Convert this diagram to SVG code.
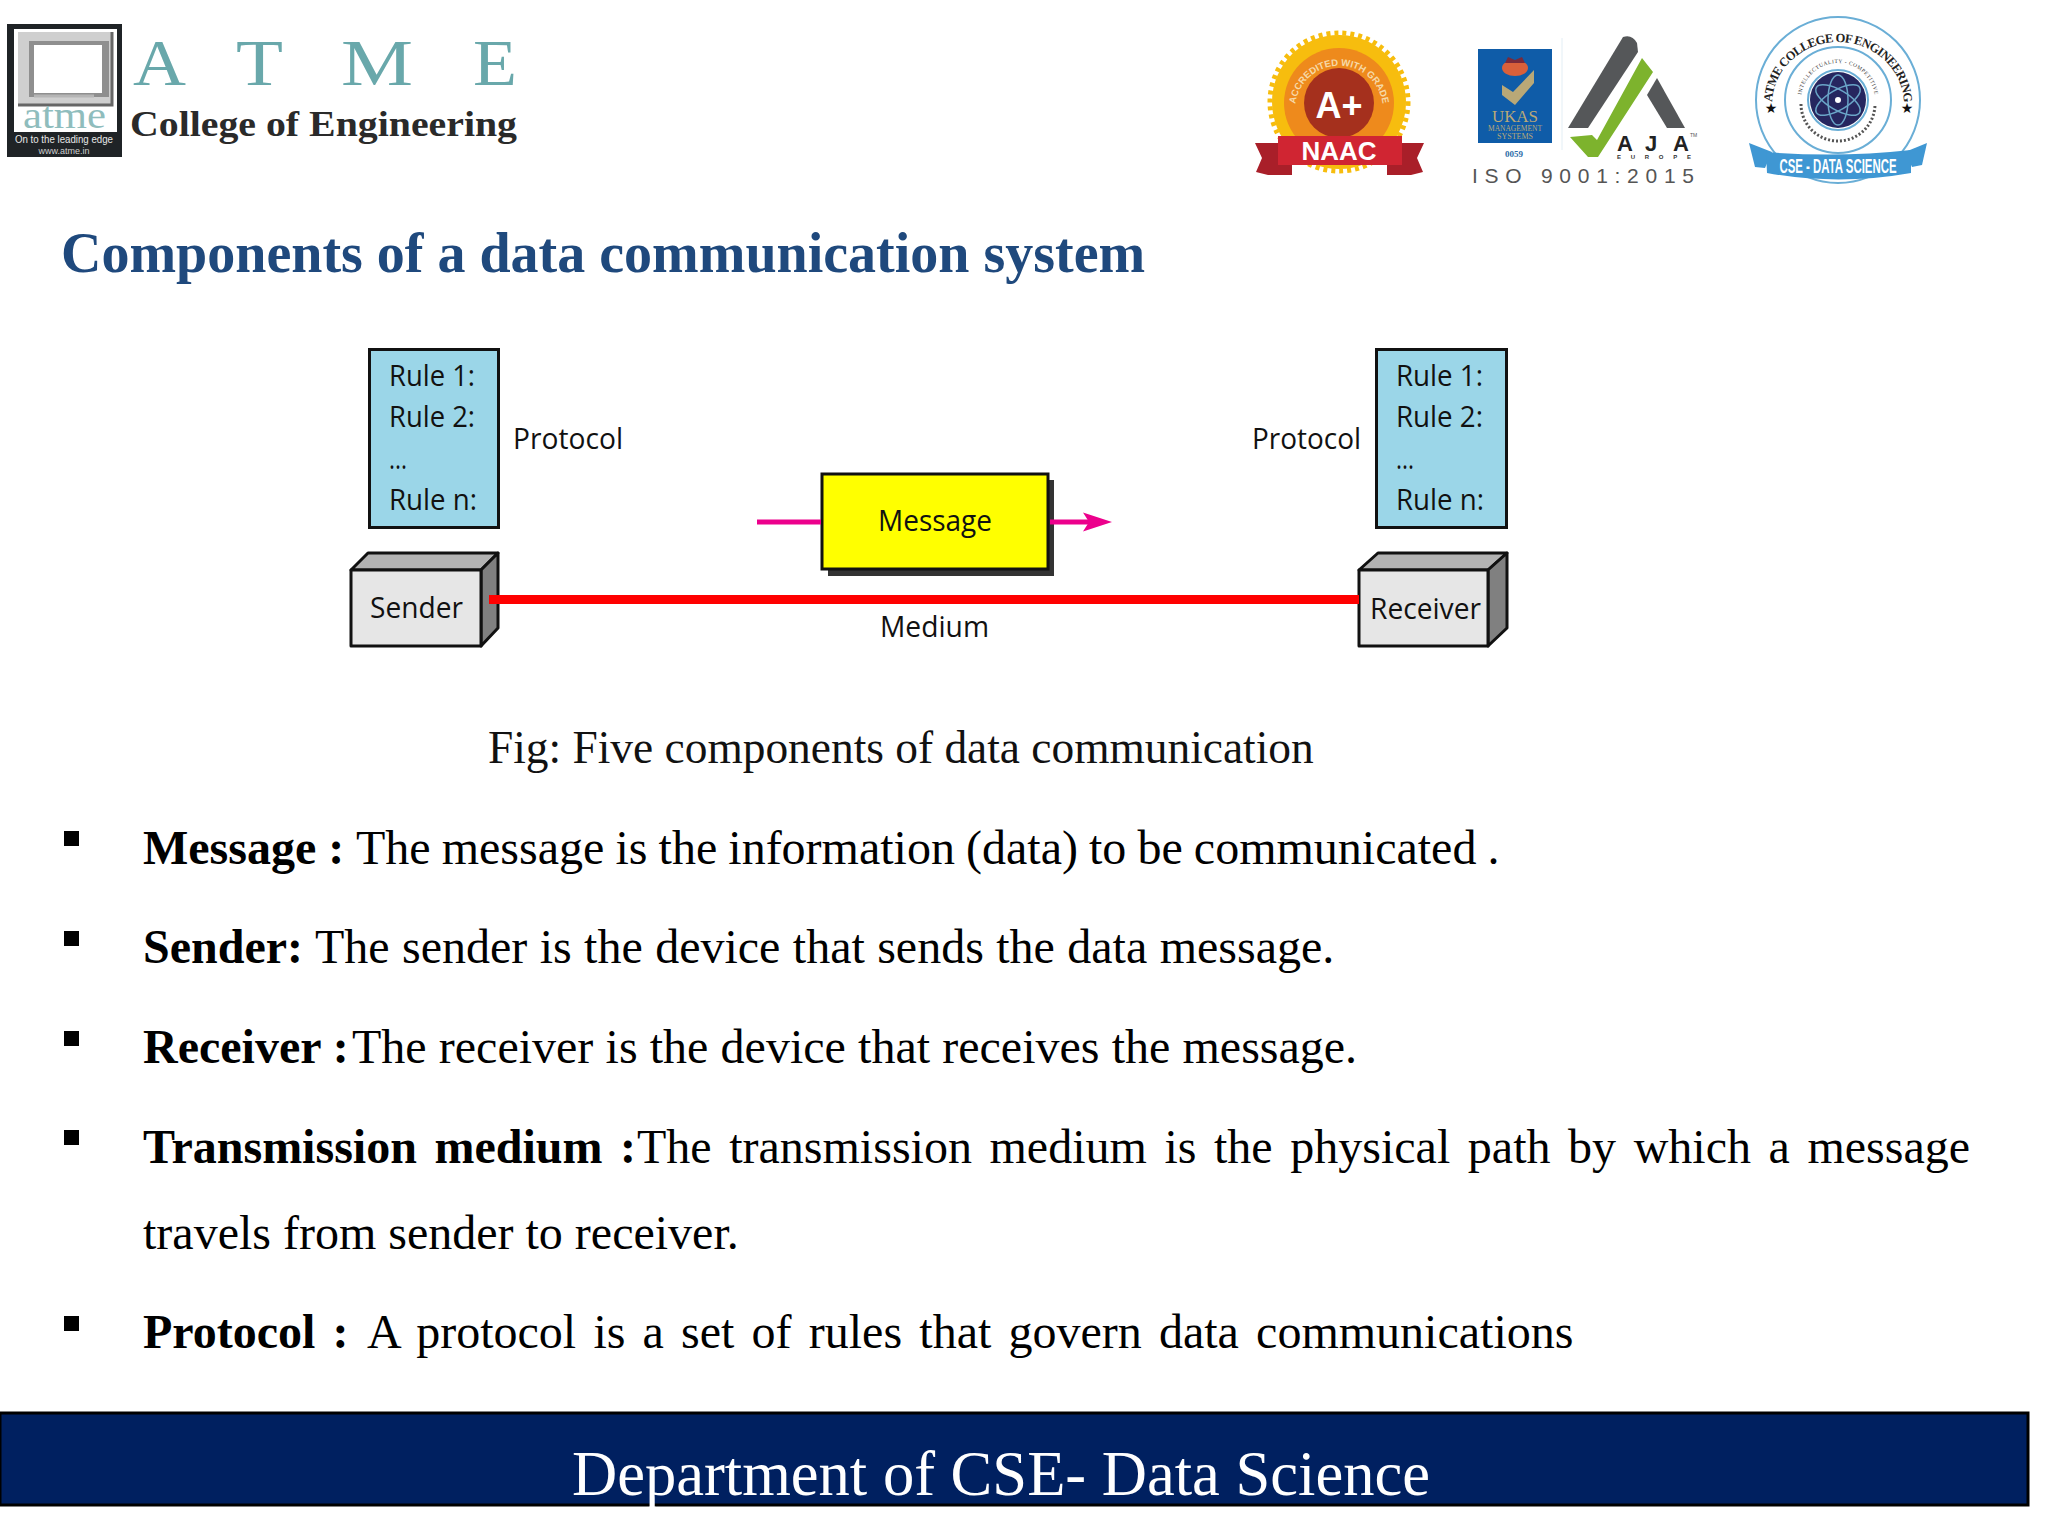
<svg xmlns="http://www.w3.org/2000/svg" width="2048" height="1536" viewBox="0 0 2048 1536">
<style>
.s{font-family:"Liberation Serif",serif}
.o{font-family:"Open Sans","Liberation Sans",sans-serif;font-size:29px;fill:#111}
.a{font-family:"Liberation Sans",sans-serif}
.d{font-family:"DejaVu Sans",sans-serif}
.b{font-family:"Liberation Serif",serif;font-size:48px;fill:#000}
.bb{font-weight:700}
.rule{fill:#9bd6e8;stroke:#111;stroke-width:3}
.front{fill:#e6e6e6;stroke:#111;stroke-width:3;stroke-linejoin:round}
.top{fill:#b3b3b3;stroke:#111;stroke-width:3;stroke-linejoin:round}
.side{fill:#808080;stroke:#111;stroke-width:3;stroke-linejoin:round}
.pink{stroke:#ec008c;stroke-width:5;fill:none}
</style>
<defs>
<marker id="head" markerUnits="userSpaceOnUse" markerWidth="30" markerHeight="20" refX="12" refY="10" orient="auto"><path d="M0,0.5 L29,10 L0,19.5 L6,10 Z" fill="#ec008c"/></marker>
<path id="arcNaac" d="M1299,128 A44,44 0 1 1 1379,128"/>
<path id="arcSeal" d="M1772,105 A66,63 0 0 1 1904,105"/>
<path id="arcRingTop" d="M1801,100 A37,37 0 0 1 1875,100"/>
</defs>
<rect width="2048" height="1536" fill="#fff"/>

<g id="logo-atme">
<rect x="7" y="24" width="115" height="133" fill="#1f2326"/>
<rect x="14" y="29" width="103" height="103" fill="#fff"/>
<rect x="18" y="32" width="94" height="74" fill="#cfcfcf"/>
<path d="M18,105 H112 V32" fill="none" stroke="#666" stroke-width="3"/>
<rect x="29" y="41" width="80" height="56" fill="#8f8f8f"/>
<rect x="34" y="45" width="68" height="48" fill="#fff"/>
<path d="M34,96 H94" stroke="#b5b5b5" stroke-width="3"/>
<text class="s" x="23" y="128" font-size="38" fill="#8fbdbd" textLength="83" lengthAdjust="spacingAndGlyphs">atme</text>
<text class="a" x="64" y="143" font-size="10" fill="#e8e8e8" text-anchor="middle" textLength="98" lengthAdjust="spacingAndGlyphs">On to the leading edge</text>
<text class="a" x="64" y="154" font-size="9" fill="#cfcfcf" text-anchor="middle">www.atme.in</text>
<g class="s" font-size="66" fill="#69a8ab">
<text x="133" y="85" textLength="53" lengthAdjust="spacingAndGlyphs">A</text>
<text x="236" y="85" textLength="47" lengthAdjust="spacingAndGlyphs">T</text>
<text x="341" y="85" textLength="72" lengthAdjust="spacingAndGlyphs">M</text>
<text x="473" y="85" textLength="44" lengthAdjust="spacingAndGlyphs">E</text>
</g>
<text class="s" x="130" y="136" font-size="36" font-weight="700" fill="#2a2a2a" textLength="387" lengthAdjust="spacingAndGlyphs">College of Engineering</text>
</g>

<g id="logo-naac">
<circle cx="1339" cy="102" r="67" fill="#f7bd0e"/>
<circle cx="1339" cy="102" r="69" fill="none" stroke="#f7bd0e" stroke-width="5" stroke-dasharray="4 4"/>
<circle cx="1339" cy="103" r="55" fill="#ee8a1c"/>
<circle cx="1339" cy="103" r="35" fill="#a5301d"/>
<text class="a" font-size="9.500" font-weight="700" fill="#f6d9a8"><textPath href="#arcNaac" startOffset="50%" text-anchor="middle">ACCREDITED WITH GRADE</textPath></text>
<text class="a" x="1339" y="118" font-size="36" font-weight="700" fill="#fff" text-anchor="middle">A+</text>
<path d="M1255,143 H1292 V175 H1268 L1256,172 L1262,158 Z" fill="#a91f29"/>
<path d="M1424,143 H1387 V175 H1411 L1423,172 L1417,158 Z" fill="#a91f29"/>
<path d="M1278,136 H1402 V165 H1278 Z" fill="#d02532"/>
<text class="a" x="1339" y="160" font-size="25" font-weight="700" fill="#fff" text-anchor="middle" textLength="75" lengthAdjust="spacingAndGlyphs">NAAC</text>
</g>

<g id="logo-ukas">
<rect x="1478" y="49" width="74" height="94" fill="#0f5ca8"/>
<ellipse cx="1515" cy="68" rx="13" ry="8" fill="#d9603a"/>
<path d="M1505,63 l3,-6 l7,3 l7,-3 l3,6 Z" fill="#7a2a3a"/>
<path d="M1502,85 L1513,92 L1534,70 V83 L1515,105 L1502,95 Z" fill="#b9a877"/>
<text class="s" x="1515" y="122" font-size="17" fill="#b9a877" text-anchor="middle" textLength="46" lengthAdjust="spacing">UKAS</text>
<text class="s" x="1515" y="131" font-size="8" fill="#b9a877" text-anchor="middle" textLength="54" lengthAdjust="spacingAndGlyphs">MANAGEMENT</text>
<text class="s" x="1515" y="139" font-size="8" fill="#b9a877" text-anchor="middle">SYSTEMS</text>
<text class="s" x="1514" y="157" font-size="9" font-weight="700" fill="#2d6ca8" text-anchor="middle">0059</text>
</g>

<g id="logo-aja">
<path d="M1562,38 V150" stroke="#e3eef5" stroke-width="1"/>
<path d="M1568,128 L1623,37 Q1632,34 1637,43 L1638,52 L1588,128 Z" fill="#555759"/>
<path d="M1647,95 L1657,78 L1685,128 L1667,128 Z" fill="#555759"/>
<path d="M1570,137 L1592,135 L1597,140 L1642,58 L1653,72 L1598,157 L1588,157 Z" fill="#7db32d"/>
<g class="a" font-size="22" font-weight="700" fill="#222">
<text x="1617" y="151">A</text><text x="1645" y="151">J</text><text x="1673" y="151">A</text>
</g>
<text class="a" x="1617" y="159" font-size="6" font-weight="700" fill="#333" textLength="74" lengthAdjust="spacing">EUROPE</text>
<text class="a" x="1690" y="137" font-size="5" fill="#555">TM</text>
<text class="a" x="1472" y="183" font-size="21" fill="#555" textLength="222" lengthAdjust="spacing">ISO 9001:2015</text>
</g>

<g id="logo-seal">
<ellipse cx="1838" cy="100" rx="82" ry="83" fill="#fff" stroke="#6aaed6" stroke-width="2"/>
<circle cx="1838" cy="100" r="53" fill="none" stroke="#6aaed6" stroke-width="2"/>
<circle cx="1838" cy="100" r="30" fill="none" stroke="#6aaed6" stroke-width="2"/>
<circle cx="1838" cy="100" r="28" fill="#26265f"/>
<g fill="none" stroke="#6aa5c8" stroke-width="1.500">
<ellipse cx="1838" cy="100" rx="25" ry="10" transform="rotate(30 1838 100)"/>
<ellipse cx="1838" cy="100" rx="25" ry="10" transform="rotate(90 1838 100)"/>
<ellipse cx="1838" cy="100" rx="25" ry="10" transform="rotate(150 1838 100)"/>
</g>
<circle cx="1838" cy="100" r="3" fill="#fff"/>
<text class="s" font-size="12.500" font-weight="700" fill="#222" letter-spacing="-0.7"><textPath href="#arcSeal" startOffset="50%" text-anchor="middle">ATME COLLEGE OF ENGINEERING</textPath></text>
<text class="s" font-size="5.500" fill="#333" letter-spacing="0.5"><textPath href="#arcRingTop" startOffset="50%" text-anchor="middle">INTELLECTUALITY - COMPETITIVE</textPath></text>
<path d="M1801,104 A37,37 0 0 0 1875,104" fill="none" stroke="#555" stroke-width="3" stroke-dasharray="2 2"/>
<text class="d" x="1771" y="113" font-size="14" fill="#111" text-anchor="middle">★</text>
<text class="d" x="1907" y="113" font-size="14" fill="#111" text-anchor="middle">★</text>
<path d="M1749,143 L1772,152 L1765,168 L1755,167 Z" fill="#3f97d3"/>
<path d="M1927,143 L1905,152 L1912,167 L1922,165 Z" fill="#3f97d3"/>
<path d="M1766,152 Q1838,158 1911,150 V173 Q1838,186 1767,173 Z" fill="#3f97d3"/>
<text class="a" x="1838" y="173" font-size="20" font-weight="700" fill="#fff" text-anchor="middle" textLength="117" lengthAdjust="spacingAndGlyphs">CSE - DATA SCIENCE</text>
</g>

<text id="title" class="s bb" x="61" y="272" font-size="56" fill="#1f497d">Components of a data communication system</text>

<g id="rules-left">
<rect class="rule" x="369.500" y="349.500" width="129" height="178"/>
<text class="o" x="389" y="386" textLength="86" lengthAdjust="spacingAndGlyphs">Rule 1:</text>
<text class="o" x="389" y="427" textLength="86" lengthAdjust="spacingAndGlyphs">Rule 2:</text>
<text class="o" x="389" y="469" textLength="18" lengthAdjust="spacingAndGlyphs">...</text>
<text class="o" x="389" y="510" textLength="88" lengthAdjust="spacingAndGlyphs">Rule n:</text>
</g>
<text id="protocol-left" class="o" x="513" y="449" textLength="110" lengthAdjust="spacingAndGlyphs">Protocol</text>

<g id="rules-right">
<rect class="rule" x="1376.500" y="349.500" width="130" height="178"/>
<text class="o" x="1396" y="386" textLength="87" lengthAdjust="spacingAndGlyphs">Rule 1:</text>
<text class="o" x="1396" y="427" textLength="87" lengthAdjust="spacingAndGlyphs">Rule 2:</text>
<text class="o" x="1396" y="469" textLength="18" lengthAdjust="spacingAndGlyphs">...</text>
<text class="o" x="1396" y="510" textLength="88" lengthAdjust="spacingAndGlyphs">Rule n:</text>
</g>
<text id="protocol-right" class="o" x="1252" y="449" textLength="109" lengthAdjust="spacingAndGlyphs">Protocol</text>

<g id="sender">
<path class="top" d="M351,570 L368,553 H498 L481,570 Z"/>
<path class="side" d="M481,570 L498,553 V628 L481,646 Z"/>
<rect class="front" x="351" y="570" width="130" height="76"/>
<text class="o" x="370" y="618" textLength="93" lengthAdjust="spacingAndGlyphs">Sender</text>
</g>

<g id="receiver">
<path class="top" d="M1359,570 L1378,553 H1507 L1488,570 Z"/>
<path class="side" d="M1488,570 L1507,553 V628 L1488,646 Z"/>
<rect class="front" x="1359" y="570" width="129" height="76"/>
<text class="o" x="1370" y="619" textLength="111" lengthAdjust="spacingAndGlyphs">Receiver</text>
</g>

<g id="message">
<rect x="828" y="480" width="226" height="96" fill="#333"/>
<rect x="822" y="474" width="226" height="95" fill="#ff0" stroke="#111" stroke-width="3"/>
<text class="o" x="878" y="531" textLength="114" lengthAdjust="spacingAndGlyphs">Message</text>
</g>

<g id="connectors">
<line class="pink" x1="757" y1="522" x2="821" y2="522"/>
<line class="pink" x1="1050" y1="522" x2="1095" y2="522" marker-end="url(#head)"/>
<line x1="489" y1="599.500" x2="1359" y2="599.500" stroke="#f00" stroke-width="9"/>
</g>
<text id="medium" class="o" x="880" y="637" textLength="109" lengthAdjust="spacingAndGlyphs">Medium</text>

<text id="caption" class="s" x="488" y="763" font-size="45.400" fill="#111">Fig: Five components of data communication</text>

<g id="bullets" fill="#000">
<rect x="64" y="831" width="15" height="15"/>
<rect x="64" y="931" width="15" height="15"/>
<rect x="64" y="1031" width="15" height="15"/>
<rect x="64" y="1130" width="15" height="15"/>
<rect x="64" y="1316" width="15" height="15"/>
</g>
<g id="body">
<text class="b" y="864"><tspan class="bb" x="143">Message :</tspan><tspan x="356" word-spacing="-0.9">The message is the information (data) to be communicated .</tspan></text>
<text class="b" y="963"><tspan class="bb" x="143">Sender:</tspan><tspan x="315" word-spacing="0.4">The sender is the device that sends the data message.</tspan></text>
<text class="b" y="1063"><tspan class="bb" x="143">Receiver :</tspan><tspan x="352" word-spacing="0.2">The receiver is the device that receives the message.</tspan></text>
<text class="b" y="1162.500" word-spacing="5.600"><tspan class="bb" x="143">Transmission medium :</tspan><tspan x="637">The transmission medium is the physical path by which a message</tspan></text>
<text class="b" x="143" y="1249">travels from sender to receiver.</text>
<text class="b" y="1348" word-spacing="5.200"><tspan class="bb" x="143">Protocol :</tspan><tspan x="367">A protocol is a set of rules that govern data communications</tspan></text>
</g>

<g id="footer">
<rect x="0" y="1413" width="2028" height="92" fill="#002060" stroke="#000" stroke-width="3"/>
<text class="s" x="572" y="1495" font-size="64" fill="#fff" textLength="858" lengthAdjust="spacingAndGlyphs">Department of CSE- Data Science</text>
</g>
</svg>
